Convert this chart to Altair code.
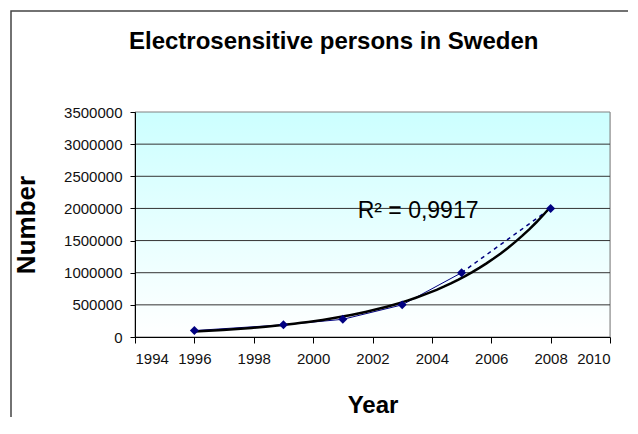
import altair as alt
import pandas as pd

# ---- data ----
years = [1996, 1999, 2001, 2003, 2005, 2008]
persons = [100000, 190000, 275000, 500000, 1000000, 2000000]
x_ticks = [1994, 1996, 1998, 2000, 2002, 2004, 2006, 2008, 2010]
y_ticks = [0, 500000, 1000000, 1500000, 2000000, 2500000, 3000000, 3500000]
grid_vals = [500000, 1000000, 1500000, 2000000, 2500000, 3000000]
r2_label = ["R² = 0,9917"]
r2_year = [2001.5]
r2_value = [1850000]
title_text = ["Electrosensitive persons in Sweden"]

W, H = 475, 225
FONT = "Liberation Sans"

df = pd.DataFrame({"Year": years, "Number": persons})
grid_df = pd.DataFrame({"Number": grid_vals})
ann_df = pd.DataFrame({"Year": r2_year, "Number": r2_value, "label": r2_label})
title_df = pd.DataFrame({"t": title_text})
one = alt.Data(values=[{"a": 1}])

xs = alt.Scale(domain=[x_ticks[0], x_ticks[-1]], nice=False, zero=False)
ys = alt.Scale(domain=[y_ticks[0], y_ticks[-1]], nice=False)

x_axis = alt.Axis(values=x_ticks, format="d", title="Year", grid=False,
                  tickSize=6, tickColor="black", domainColor="black",
                  labelPadding=8, labelFontSize=15, labelFont=FONT, labelColor="#111111",
                  titleFont=FONT, titleFontSize=24, titleFontWeight="bold", titleColor="black",
                  titleX=W / 2, titleY=75, titleBaseline="alphabetic", titleAlign="center",
                  zindex=1)
y_axis = alt.Axis(values=y_ticks, format="d", title="Number", grid=False,
                  tickSize=5, tickColor="black", domainColor="black",
                  labelPadding=8, labelFontSize=15, labelFont=FONT, labelColor="#111111",
                  titleFont=FONT, titleFontSize=26, titleFontWeight="bold", titleColor="black",
                  titleAngle=270, titleX=-101, titleY=H / 2, titleBaseline="alphabetic",
                  titleAlign="center", zindex=1)

X = alt.X("Year:Q", scale=xs, axis=x_axis)
Y = alt.Y("Number:Q", scale=ys, axis=y_axis)

frame = alt.Chart(one).mark_rect(fillOpacity=0, stroke="#444444", strokeWidth=1.5).encode(
    x=alt.value(-124), x2=alt.value(W + 300), y=alt.value(-101), y2=alt.value(H + 300))

title = alt.Chart(title_df).mark_text(align="left", baseline="alphabetic", fontSize=24,
                                      fontWeight="bold", font=FONT, color="black").encode(
    x=alt.value(-6), y=alt.value(-63), text="t:N")

bg = alt.Chart(one).mark_rect(
    fill=alt.LinearGradient(gradient="linear", x1=0, y1=0, x2=0, y2=1,
                            stops=[alt.GradientStop(offset=0, color="#ccffff"),
                                   alt.GradientStop(offset=1, color="#ffffff")]),
    stroke="#808080", strokeWidth=1).encode(
    x=alt.value(0), x2=alt.value(W), y=alt.value(0), y2=alt.value(H))

grid = alt.Chart(grid_df).mark_rule(color="#333333", strokeWidth=1).encode(y=Y)

base = alt.Chart(df)
solid = base.transform_filter("datum.Year <= 2005").mark_line(
    color="#000080", strokeWidth=1).encode(x=X, y=Y)
dashed = base.transform_filter("datum.Year >= 2005").mark_line(
    color="#000080", strokeWidth=1.5, strokeDash=[4, 4]).encode(x=X, y=Y)
trend = base.transform_regression("Year", "Number", method="exp").mark_line(
    color="black", strokeWidth=2.5).encode(x=X, y=Y)
pts = base.mark_point(shape="diamond", filled=True, size=80, color="#000080", opacity=1).encode(x=X, y=Y)

ann = alt.Chart(ann_df).mark_text(align="left", baseline="alphabetic", fontSize=23,
                                   font=FONT, color="black").encode(x=X, y=Y, text="label:N")

chart = alt.layer(frame, title, bg, grid, solid, dashed, trend, pts, ann).properties(
    width=W, height=H,
    autosize=alt.AutoSizeParams(type="none"),
    padding={"left": 127, "top": 104, "right": 18, "bottom": 80},
).configure_view(stroke=None).configure(background="white")

chart.save("out.html", embed_options={"renderer": "svg", "actions": False})
